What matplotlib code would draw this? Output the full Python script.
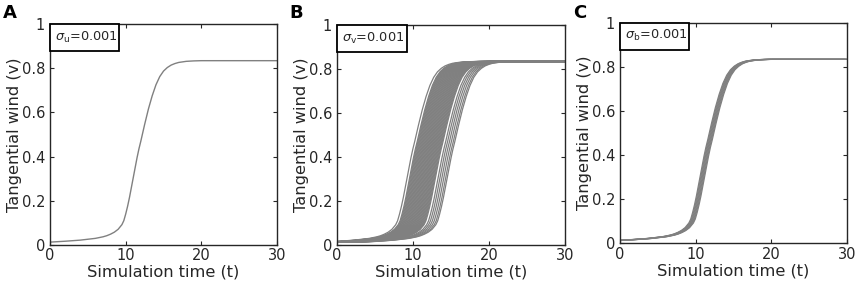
import numpy as np
import matplotlib.pyplot as plt
from matplotlib.patches import Rectangle

# base trajectory (time, tangential wind)
t_base = [0, 2, 4, 5, 6, 7, 7.5, 8, 8.5, 9, 9.5, 9.75, 10, 10.25, 10.5,
          10.75, 11, 11.25, 11.5, 11.75, 12, 12.5, 13, 13.5, 14, 14.5, 15,
          15.5, 16, 16.5, 17, 18, 19, 20, 25, 30]
v_base = [0.013, 0.017, 0.022, 0.026, 0.03, 0.037, 0.042, 0.049, 0.058,
          0.071, 0.092, 0.11, 0.14, 0.175, 0.215, 0.26, 0.305, 0.35, 0.395,
          0.435, 0.47, 0.545, 0.615, 0.675, 0.725, 0.762, 0.787, 0.803,
          0.814, 0.821, 0.826, 0.831, 0.833, 0.834, 0.834, 0.834]

# time offsets of the ensemble members
shifts_A = [0.0]
shifts_B = [-1.78, -1.45, -1.35, -1.25, -1.15, -1.05, -0.95, -0.85, -0.75,
            -0.65, -0.55, -0.45, -0.35, -0.25, -0.15, -0.05, 0.05, 0.15,
            0.25, 0.35, 0.45, 0.55, 0.65, 0.75, 0.85, 0.95, 1.05, 1.15, 1.25,
            1.35, 1.45, 1.55, 1.65, 1.75, 1.85, 1.95, 2.3, 2.55, 2.8, 3.05,
            3.3, 3.5]
shifts_C = [-0.4, -0.3, -0.2, -0.1, 0.0, 0.1, 0.2]

panels = ['A', 'B', 'C']
subs = ['u', 'v', 'b']
shift_sets = [shifts_A, shifts_B, shifts_C]
positions = [[0.0583, 0.1404, 0.2646, 0.7754],
             [0.3928, 0.1404, 0.2657, 0.7720],
             [0.7226, 0.1463, 0.2646, 0.7740]]

txt = '#262626'
plt.rcParams['font.family'] = 'DejaVu Sans'

fig = plt.figure(figsize=(8.58, 2.85), dpi=100)
t_base = np.array(t_base)
v_base = np.array(v_base)

for lab, sub, shifts, pos in zip(panels, subs, shift_sets, positions):
    ax = fig.add_axes(pos)
    for s in shifts:
        x = np.concatenate([[0], t_base + s])
        y = np.concatenate([[v_base[0]], v_base])
        ax.plot(x, y, color='#808080', lw=1.0 if len(shifts) == 1 else 0.9)
    ax.set_xlim(0, 30)
    ax.set_ylim(0, 1)
    ax.set_xticks([0, 10, 20, 30])
    ax.set_yticks([0, 0.2, 0.4, 0.6, 0.8, 1])
    ax.set_yticklabels(['0', '0.2', '0.4', '0.6', '0.8', '1'])
    ax.tick_params(direction='in', length=3, width=0.8, top=True, right=True,
                   labelsize=10.5, colors='#262626', labelcolor=txt)
    ax.tick_params(axis='y', pad=3.5)
    ax.tick_params(axis='x', pad=2.5)
    for sp in ax.spines.values():
        sp.set_linewidth(1.0)
        sp.set_color('#262626')
    ax.set_xlabel('Simulation time (t)', fontsize=11.7, color=txt, labelpad=1)
    ax.set_ylabel('Tangential wind (v)', fontsize=11.7, color=txt, labelpad=0)
    # annotation box in the top-left corner
    ax.add_patch(Rectangle((0, 0.876), 0.305, 0.124, transform=ax.transAxes,
                           fc='white', ec='black', lw=1.3, zorder=5,
                           clip_on=False))
    ax.text(0.02, 0.94, r'$\sigma_{\rm %s}$=0.001' % sub, transform=ax.transAxes,
            ha='left', va='center', fontsize=9.3, color=txt, zorder=6)
    fig.text(pos[0] - 0.055, 0.985, lab, fontsize=13, fontweight='bold',
             ha='left', va='top')

fig.savefig('out.png', dpi=100)
